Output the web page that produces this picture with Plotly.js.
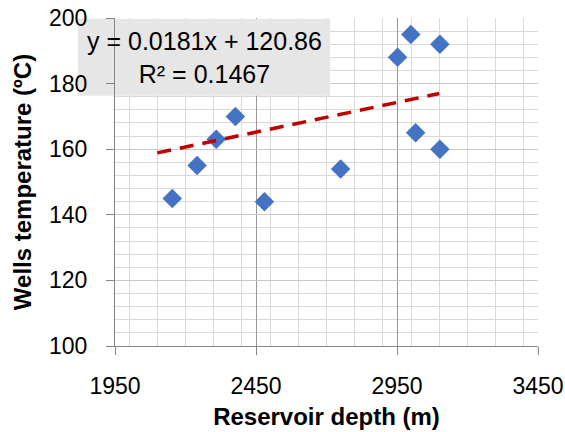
<!DOCTYPE html>
<html><head><meta charset="utf-8">
<script src="https://cdn.plot.ly/plotly-3.0.1.min.js"></script>
<style>html,body{margin:0;padding:0;background:#fff}</style>
</head><body>
<div id="chart" style="width:565px;height:432px"></div>
<script>
// Data
const depth = [2153, 2241, 2309, 2377, 2480, 2750, 2952, 2999, 3016, 3102, 3102];
const temperature = [145, 155, 163, 170, 144, 154, 188, 195, 165, 192, 160];
// Trendline as reported on the chart
const trendSlope = 0.0181;
const trendIntercept = 120.86;
const trendR2 = 0.1467;
const trendRange = [2100, 3100];
const xTicks = [1950, 2450, 2950, 3450];
const yTicks = [100, 120, 140, 160, 180, 200];

const trendX = trendRange;
const trendY = trendRange.map(x => trendSlope * x + trendIntercept);

const font = 'Liberation Sans, Arial, sans-serif';
const boxColor = '#e6e6e6';

const data = [
  {
    type: 'scatter', mode: 'markers', x: depth, y: temperature,
    marker: {symbol: 'diamond', size: 15, color: '#4472C4'},
    hoverinfo: 'x+y', showlegend: false
  },
  {
    type: 'scatter', mode: 'lines', x: trendX, y: trendY,
    line: {color: '#C00000', width: 3.5, dash: '14px,9px'},
    showlegend: false
  }
];

const layout = {
  width: 565, height: 432,
  margin: {l: 115, r: 27, t: 18, b: 86},
  paper_bgcolor: '#ffffff', plot_bgcolor: '#ffffff',
  font: {family: font, color: '#000000', size: 22},
  showlegend: false,
  xaxis: {
    range: [1950, 3450], tickvals: xTicks, ticktext: xTicks.map(String),
    ticks: 'outside', ticklen: 8, tickcolor: '#868686', tickwidth: 1,
    showline: true, linecolor: '#868686', linewidth: 1,
    showgrid: true, gridcolor: '#969696', gridwidth: 1,
    minor: {dtick: 100, showgrid: true, gridcolor: '#d9d9d9', gridwidth: 1, ticks: ''},
    zeroline: false, ticklabelstandoff: 11,
    tickfont: {family: font, size: 23, color: '#000'},
    title: {text: 'Reservoir depth (m)', standoff: 10, font: {family: font, size: 24, color: '#000', weight: 'bold'}},
    automargin: false
  },
  yaxis: {
    range: [100, 200], tickvals: yTicks, ticktext: yTicks.map(String),
    ticks: 'outside', ticklen: 8, tickcolor: '#868686', tickwidth: 1,
    showline: true, linecolor: '#868686', linewidth: 1,
    showgrid: true, gridcolor: '#c8c8c8', gridwidth: 1,
    minor: {dtick: 4, showgrid: true, gridcolor: '#d9d9d9', gridwidth: 1, ticks: ''},
    zeroline: false, ticklabelstandoff: 14,
    tickfont: {family: font, size: 23, color: '#000'},
    title: {text: 'Wells temperature (ºC)', standoff: 10, font: {family: font, size: 24, color: '#000', weight: 'bold'}},
    automargin: false
  },
  shapes: [
    // trendline label box: part inside the plot (above grid, below labels)
    {type: 'rect', xref: 'x', yref: 'y', layer: 'between',
     x0: 1950, x1: 2713, y0: 176.3, y1: 199.7,
     fillcolor: boxColor, line: {width: 0}},
    // part of the box that sits left of the plot area
    {type: 'rect', xref: 'paper', yref: 'paper', layer: 'below',
     x0: -0.0876, x1: 0, y0: 0.763, y1: 0.998,
     fillcolor: boxColor, line: {width: 0}}
  ],
  annotations: [
    {
      xref: 'paper', yref: 'paper', x: 0.2107, y: 0.880,
      xanchor: 'center', yanchor: 'middle',
      text: 'y = ' + trendSlope.toFixed(4) + 'x + ' + trendIntercept.toFixed(2) + '<br>R² = ' + trendR2.toFixed(4),
      showarrow: false, align: 'center',
      font: {family: font, size: 25, color: '#000'}
    }
  ]
};

Plotly.newPlot('chart', data, layout, {staticPlot: true, displayModeBar: false});
</script>
</body></html>
